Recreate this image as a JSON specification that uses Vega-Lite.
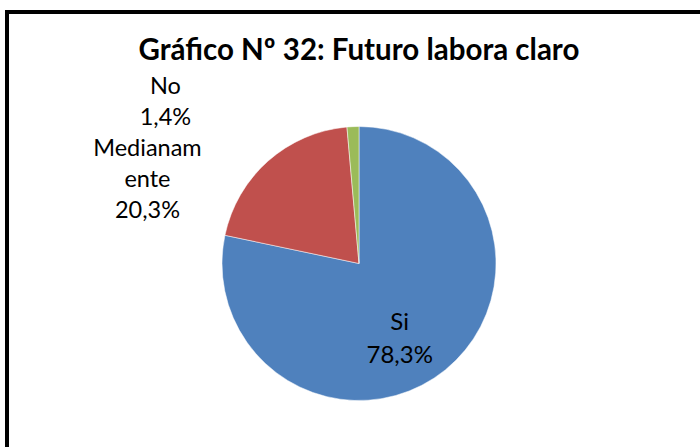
{
  "$schema": "https://vega.github.io/schema/vega-lite/v6.json",
  "autosize": {"type": "none"},
  "width": 704,
  "height": 503,
  "padding": {"left": 7, "top": 12, "right": 0, "bottom": 0},
  "background": "white",
  "view": {"stroke": "black", "strokeWidth": 4},
  "config": {"view": {"stroke": "black", "strokeWidth": 4}, "font": "Lato"},
  "title": {
    "text": "Gráfico Nº 32: Futuro labora claro",
    "font": "Lato",
    "fontSize": 29.5,
    "fontWeight": "bold",
    "color": "black",
    "anchor": "middle",
    "frame": "group",
    "baseline": "alphabetic",
    "offset": -77
  },
  "data": {
    "values": [
      {"categoria": "Si", "porcentaje": 78.3, "etiqueta": "Si\n78,3%"},
      {"categoria": "Medianamente", "porcentaje": 20.3, "etiqueta": "Medianam\nente\n20,3%"},
      {"categoria": "No", "porcentaje": 1.4, "etiqueta": "No\n1,4%"}
    ]
  },
  "encoding": {
    "theta": {"field": "porcentaje", "type": "quantitative", "stack": true},
    "order": {"field": "porcentaje", "type": "quantitative", "sort": "descending"}
  },
  "layer": [
    {
      "mark": {"type": "arc", "outerRadius": 137, "stroke": "white", "strokeWidth": 0.5},
      "encoding": {
        "color": {
          "field": "categoria",
          "type": "nominal",
          "scale": {"domain": ["Si", "Medianamente", "No"], "range": ["#4F81BD", "#C0504D", "#9BBB59"]},
          "legend": null
        }
      }
    },
    {
      "mark": {"type": "text", "radius": 90, "dx": -16, "dy": -10, "fontSize": 24, "lineBreak": "\n", "lineHeight": 33, "color": "black", "align": "center", "baseline": "middle"},
      "encoding": {
        "detail": {"field": "categoria", "type": "nominal"},
        "text": {"condition": {"test": "datum.categoria === 'Si'", "field": "etiqueta"}, "value": ""}
      }
    },
    {
      "mark": {"type": "text", "radius": 150, "dx": -112, "dy": -2, "fontSize": 23.5, "lineBreak": "\n", "lineHeight": 31, "color": "black", "align": "center", "baseline": "middle"},
      "encoding": {
        "detail": {"field": "categoria", "type": "nominal"},
        "text": {"condition": {"test": "datum.categoria === 'Medianamente'", "field": "etiqueta"}, "value": ""}
      }
    },
    {
      "mark": {"type": "text", "radius": 150, "dx": -187, "dy": -27, "fontSize": 23.5, "lineBreak": "\n", "lineHeight": 31, "color": "black", "align": "center", "baseline": "middle"},
      "encoding": {
        "detail": {"field": "categoria", "type": "nominal"},
        "text": {"condition": {"test": "datum.categoria === 'No'", "field": "etiqueta"}, "value": ""}
      }
    }
  ]
}
